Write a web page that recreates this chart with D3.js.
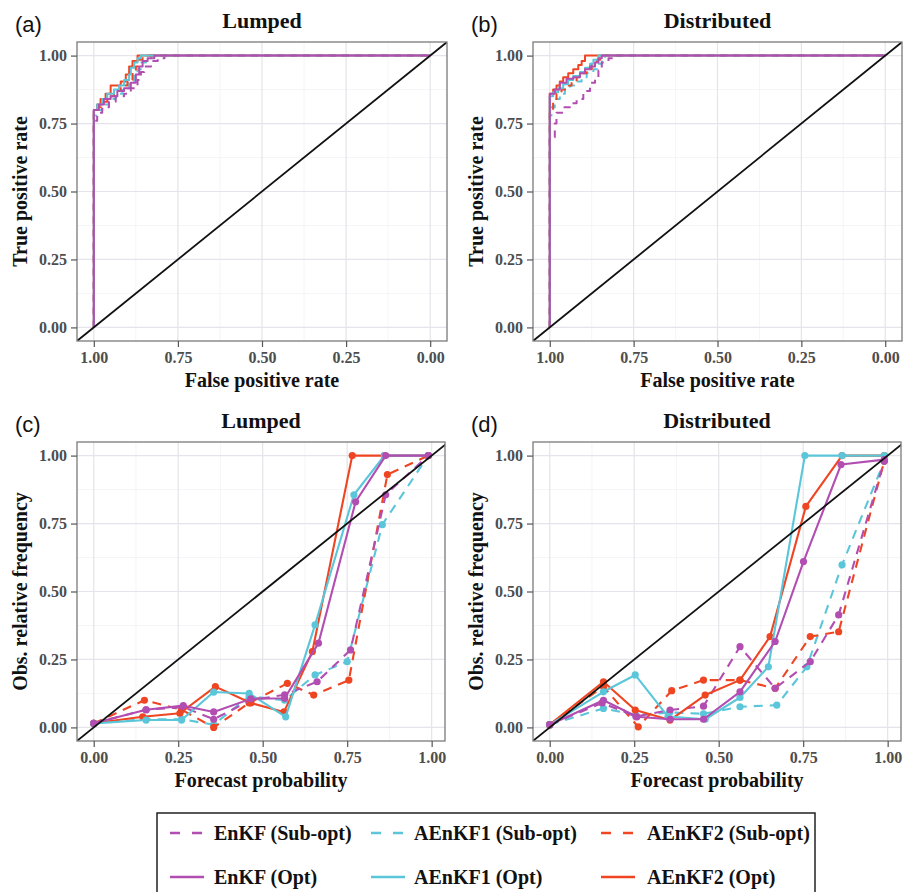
<!DOCTYPE html>
<html>
<head>
<meta charset="utf-8">
<script src="https://cdn.jsdelivr.net/npm/d3@7"></script>
<style>
  html, body { margin: 0; padding: 0; background: #fff; }
  svg { display: block; }
  .serif { font-family: "Liberation Serif", "Times New Roman", serif; font-weight: bold; }
</style>
</head>
<body>
<svg id="fig" width="903" height="892"></svg>
<script>
// ---- shared tick values / labels ----
const tickValues = [0, 0.25, 0.5, 0.75, 1];
const minorValues = [0.125, 0.375, 0.625, 0.875];
const tickFormat = d3.format(".2f");

// ---- series (legend order) ----
const seriesNames = ["EnKF (Sub-opt)", "AEnKF1 (Sub-opt)", "AEnKF2 (Sub-opt)",
                     "EnKF (Opt)", "AEnKF1 (Opt)", "AEnKF2 (Opt)"];
const seriesColors = ["#B24DB1", "#5BC6DA", "#EF4522", "#B24DB1", "#5BC6DA", "#EF4522"];
const seriesDashed = [true, true, true, false, false, false];
// drawing order (index into series arrays)
const drawOrder = [1, 2, 0, 5, 4, 3];

// ---- ROC curves: [specificity, sensitivity] at each rise ----
const rocLumpedEnKFSub = [[1,0],[1,0.76],[0.99,0.79],[0.975,0.81],[0.955,0.83],[0.935,0.85],[0.91,0.86],[0.89,0.88],[0.87,0.91],[0.86,0.94],[0.85,0.96],[0.83,0.98],[0.81,0.99],[0.79,1],[0,1]];
const rocLumpedAEnKF1Sub = [[1,0],[1,0.78],[0.99,0.80],[0.975,0.82],[0.955,0.84],[0.935,0.86],[0.915,0.88],[0.895,0.90],[0.88,0.93],[0.87,0.95],[0.86,0.975],[0.845,0.99],[0.83,1],[0,1]];
const rocLumpedAEnKF2Sub = [[1,0],[1,0.79],[0.99,0.81],[0.975,0.83],[0.96,0.85],[0.94,0.87],[0.92,0.89],[0.90,0.91],[0.885,0.94],[0.875,0.96],[0.865,0.985],[0.855,1],[0,1]];
const rocLumpedEnKFOpt = [[1,0],[1,0.80],[0.985,0.82],[0.97,0.84],[0.95,0.85],[0.93,0.87],[0.91,0.88],[0.89,0.90],[0.875,0.93],[0.865,0.96],[0.855,0.98],[0.84,0.99],[0.82,1],[0,1]];
const rocLumpedAEnKF1Opt = [[1,0],[1,0.80],[0.99,0.82],[0.975,0.84],[0.96,0.86],[0.94,0.875],[0.925,0.89],[0.91,0.91],[0.895,0.93],[0.89,0.955],[0.88,0.975],[0.87,0.99],[0.86,1],[0,1]];
const rocLumpedAEnKF2Opt = [[1,0],[1,0.80],[0.99,0.82],[0.98,0.84],[0.965,0.86],[0.95,0.89],[0.92,0.905],[0.905,0.93],[0.895,0.96],[0.885,0.98],[0.87,1],[0,1]];

const rocDistEnKFSub = [[1,0],[1,0.70],[0.985,0.75],[0.98,0.79],[0.96,0.81],[0.94,0.825],[0.92,0.84],[0.90,0.87],[0.88,0.90],[0.865,0.92],[0.855,0.945],[0.845,0.975],[0.825,0.99],[0.80,1],[0,1]];
const rocDistAEnKF1Sub = [[1,0],[1,0.78],[0.995,0.81],[0.985,0.84],[0.97,0.86],[0.955,0.875],[0.94,0.89],[0.925,0.905],[0.905,0.92],[0.89,0.935],[0.87,0.95],[0.86,0.97],[0.845,0.985],[0.835,1],[0,1]];
const rocDistAEnKF2Sub = [[1,0],[1,0.80],[0.99,0.83],[0.98,0.86],[0.965,0.875],[0.95,0.89],[0.935,0.905],[0.92,0.92],[0.905,0.935],[0.89,0.95],[0.875,0.97],[0.86,0.985],[0.85,1],[0,1]];
const rocDistEnKFOpt = [[1,0],[1,0.86],[0.985,0.875],[0.97,0.90],[0.95,0.915],[0.93,0.92],[0.91,0.935],[0.895,0.95],[0.88,0.96],[0.865,0.975],[0.855,0.99],[0.845,1],[0,1]];
const rocDistAEnKF1Opt = [[1,0],[1,0.85],[0.99,0.865],[0.975,0.88],[0.96,0.895],[0.945,0.91],[0.93,0.925],[0.91,0.94],[0.895,0.955],[0.88,0.97],[0.87,0.985],[0.855,1],[0,1]];
const rocDistAEnKF2Opt = [[1,0],[1,0.86],[0.99,0.875],[0.98,0.89],[0.97,0.905],[0.96,0.92],[0.945,0.935],[0.93,0.95],[0.915,0.965],[0.905,0.98],[0.895,1],[0,1]];

// ---- reliability diagrams: [forecast probability, observed relative frequency] ----
const relLumpedEnKFSub = [[0,0.015],[0.155,0.065],[0.265,0.075],[0.355,0.03],[0.465,0.10],[0.565,0.12],[0.661,0.168],[0.76,0.285],[0.864,0.856],[0.99,1]];
const relLumpedAEnKF1Sub = [[0,0.015],[0.155,0.03],[0.26,0.03],[0.355,0.01],[0.46,0.115],[0.565,0.10],[0.655,0.193],[0.75,0.242],[0.854,0.746],[0.99,1]];
const relLumpedAEnKF2Sub = [[0,0.015],[0.15,0.10],[0.26,0.065],[0.355,0.0],[0.46,0.09],[0.573,0.162],[0.651,0.119],[0.755,0.174],[0.869,0.93],[0.99,1]];
const relLumpedEnKFOpt = [[0,0.015],[0.155,0.065],[0.265,0.08],[0.355,0.057],[0.465,0.105],[0.565,0.107],[0.665,0.31],[0.775,0.83],[0.864,1],[0.99,1]];
const relLumpedAEnKF1Opt = [[0,0.015],[0.155,0.027],[0.26,0.027],[0.355,0.13],[0.46,0.125],[0.568,0.039],[0.655,0.377],[0.77,0.856],[0.86,1],[0.99,1]];
const relLumpedAEnKF2Opt = [[0,0.015],[0.145,0.039],[0.255,0.052],[0.36,0.15],[0.465,0.09],[0.563,0.057],[0.647,0.279],[0.765,1],[0.86,1],[0.99,1]];

const relDistEnKFSub = [[0,0.01],[0.155,0.09],[0.255,0.04],[0.356,0.064],[0.455,0.078],[0.563,0.297],[0.667,0.144],[0.771,0.242],[0.855,0.414],[0.99,0.98]];
const relDistAEnKF1Sub = [[0,0.01],[0.159,0.07],[0.255,0.045],[0.355,0.055],[0.455,0.05],[0.563,0.076],[0.672,0.082],[0.761,0.223],[0.865,0.598],[0.99,0.98]];
const relDistAEnKF2Sub = [[0,0.01],[0.159,0.15],[0.262,0.002],[0.361,0.135],[0.455,0.174],[0.563,0.174],[0.667,0.144],[0.771,0.334],[0.855,0.352],[0.99,0.98]];
const relDistEnKFOpt = [[0,0.01],[0.159,0.10],[0.258,0.039],[0.356,0.03],[0.455,0.03],[0.563,0.131],[0.667,0.316],[0.751,0.61],[0.862,0.967],[0.99,0.985]];
const relDistAEnKF1Opt = [[0,0.01],[0.159,0.131],[0.253,0.193],[0.35,0.04],[0.46,0.03],[0.563,0.11],[0.647,0.223],[0.755,1],[0.865,1],[0.99,1]];
const relDistAEnKF2Opt = [[0,0.01],[0.159,0.168],[0.253,0.064],[0.356,0.027],[0.46,0.119],[0.563,0.174],[0.652,0.334],[0.758,0.813],[0.865,1],[0.99,1]];

// ---- panel definitions ----
const panels = [
  { tag: "(a)", title: "Lumped", kind: "roc", x0: 77, x1: 447, y0: 42, y1: 341,
    xlab: "False positive rate", ylab: "True positive rate",
    series: [rocLumpedEnKFSub, rocLumpedAEnKF1Sub, rocLumpedAEnKF2Sub, rocLumpedEnKFOpt, rocLumpedAEnKF1Opt, rocLumpedAEnKF2Opt] },
  { tag: "(b)", title: "Distributed", kind: "roc", x0: 533, x1: 902, y0: 42, y1: 341,
    xlab: "False positive rate", ylab: "True positive rate",
    series: [rocDistEnKFSub, rocDistAEnKF1Sub, rocDistAEnKF2Sub, rocDistEnKFOpt, rocDistAEnKF1Opt, rocDistAEnKF2Opt] },
  { tag: "(c)", title: "Lumped", kind: "rel", x0: 77, x1: 445, y0: 442, y1: 741,
    xlab: "Forecast probability", ylab: "Obs. relative frequency",
    series: [relLumpedEnKFSub, relLumpedAEnKF1Sub, relLumpedAEnKF2Sub, relLumpedEnKFOpt, relLumpedAEnKF1Opt, relLumpedAEnKF2Opt] },
  { tag: "(d)", title: "Distributed", kind: "rel", x0: 533, x1: 901, y0: 442, y1: 741,
    xlab: "Forecast probability", ylab: "Obs. relative frequency",
    series: [relDistEnKFSub, relDistAEnKF1Sub, relDistAEnKF2Sub, relDistEnKFOpt, relDistAEnKF1Opt, relDistAEnKF2Opt] }
];

const svg = d3.select("#fig");
const DASH = "9,7";

panels.forEach((p, pi) => {
  const x = p.kind === "roc"
    ? d3.scaleLinear().domain([1.05, -0.05]).range([p.x0, p.x1])
    : d3.scaleLinear().domain([-0.0495, 1.0395]).range([p.x0, p.x1]);
  const y = d3.scaleLinear().domain([-0.05, 1.05]).range([p.y1, p.y0]);
  const g = svg.append("g");
  const clipId = "clip" + pi;
  g.append("clipPath").attr("id", clipId).append("rect")
    .attr("x", p.x0).attr("y", p.y0).attr("width", p.x1 - p.x0).attr("height", p.y1 - p.y0);

  // grid
  const grid = g.append("g");
  minorValues.forEach(v => {
    grid.append("line").attr("x1", x(v)).attr("x2", x(v)).attr("y1", p.y0).attr("y2", p.y1)
      .attr("stroke", "#F0F0F3").attr("stroke-width", 0.7);
    grid.append("line").attr("y1", y(v)).attr("y2", y(v)).attr("x1", p.x0).attr("x2", p.x1)
      .attr("stroke", "#F0F0F3").attr("stroke-width", 0.7);
  });
  tickValues.forEach(v => {
    grid.append("line").attr("x1", x(v)).attr("x2", x(v)).attr("y1", p.y0).attr("y2", p.y1)
      .attr("stroke", "#E4E4EA").attr("stroke-width", 1.2);
    grid.append("line").attr("y1", y(v)).attr("y2", y(v)).attr("x1", p.x0).attr("x2", p.x1)
      .attr("stroke", "#E4E4EA").attr("stroke-width", 1.2);
  });

  const plot = g.append("g").attr("clip-path", `url(#${clipId})`);

  drawOrder.forEach(si => {
    const data = p.series[si];
    const line = d3.line().x(d => x(d[0])).y(d => y(d[1]))
      .curve(p.kind === "roc" ? d3.curveStepAfter : d3.curveLinear);
    plot.append("path").datum(data).attr("d", line)
      .attr("fill", "none").attr("stroke", seriesColors[si])
      .attr("stroke-width", p.kind === "roc" ? 2.0 : 2.1)
      .attr("stroke-dasharray", seriesDashed[si] ? (p.kind === "roc" ? "7,6" : DASH) : null)
      .attr("stroke-linejoin", "round");
    if (p.kind === "rel") {
      plot.selectAll(null).data(data).enter().append("circle")
        .attr("cx", d => x(d[0])).attr("cy", d => y(d[1])).attr("r", 3.6)
        .attr("fill", seriesColors[si]);
    }
  });

  // reference diagonal
  const diag = p.kind === "roc" ? [[1.05, -0.05], [-0.05, 1.05]] : [[-0.05, -0.05], [1.05, 1.05]];
  plot.append("line").attr("x1", x(diag[0][0])).attr("y1", y(diag[0][1]))
    .attr("x2", x(diag[1][0])).attr("y2", y(diag[1][1]))
    .attr("stroke", "#111").attr("stroke-width", 1.8);

  // panel border
  g.append("rect").attr("x", p.x0).attr("y", p.y0).attr("width", p.x1 - p.x0).attr("height", p.y1 - p.y0)
    .attr("fill", "none").attr("stroke", "#7A7A7A").attr("stroke-width", 1.3);

  // axes
  const xAxis = d3.axisBottom(x).tickValues(tickValues).tickFormat(tickFormat).tickSize(6).tickSizeOuter(0).tickPadding(5);
  const yAxis = d3.axisLeft(y).tickValues(tickValues).tickFormat(tickFormat).tickSize(6).tickSizeOuter(0).tickPadding(4);
  const gx = g.append("g").attr("transform", `translate(0,${p.y1})`).call(xAxis);
  const gy = g.append("g").attr("transform", `translate(${p.x0},0)`).call(yAxis);
  [gx, gy].forEach(a => {
    a.select(".domain").remove();
    a.selectAll(".tick line").attr("stroke", "#555").attr("stroke-width", 1.2);
    a.selectAll(".tick text").attr("class", "serif").attr("font-size", 16).attr("fill", "#4D4D4D");
  });

  // titles and labels
  const cx = (p.x0 + p.x1) / 2, cy = (p.y0 + p.y1) / 2;
  g.append("text").attr("class", "serif").attr("x", cx).attr("y", p.y0 - 14)
    .attr("text-anchor", "middle").attr("font-size", 22).attr("fill", "#111").text(p.title);
  g.append("text").attr("x", p.x0 - 62).attr("y", p.y0 - 10)
    .attr("font-family", "Liberation Sans, Arial, sans-serif").attr("font-size", 22).attr("fill", "#111").text(p.tag);
  g.append("text").attr("class", "serif").attr("x", cx).attr("y", p.y1 + 46)
    .attr("text-anchor", "middle").attr("font-size", 20).attr("fill", "#111").text(p.xlab);
  g.append("text").attr("class", "serif")
    .attr("transform", `translate(${p.x0 - 50},${cy}) rotate(-90)`)
    .attr("text-anchor", "middle").attr("font-size", 20).attr("fill", "#111").text(p.ylab);
});

// ---- legend ----
const legend = svg.append("g");
legend.append("rect").attr("x", 157).attr("y", 813).attr("width", 658).attr("height", 90)
  .attr("fill", "#fff").attr("stroke", "#222").attr("stroke-width", 1.5);
const colX = [170, 371, 601];
const textX = [214, 414, 647];
const rowY = [833, 877];
seriesNames.forEach((name, i) => {
  const col = i % 3, row = Math.floor(i / 3);
  legend.append("line").attr("x1", colX[col]).attr("x2", colX[col] + 34)
    .attr("y1", rowY[row]).attr("y2", rowY[row])
    .attr("stroke", seriesColors[i]).attr("stroke-width", 2.4)
    .attr("stroke-dasharray", seriesDashed[i] ? "10,12" : null);
  legend.append("text").attr("class", "serif").attr("x", textX[col]).attr("y", rowY[row] + 7)
    .attr("font-size", 20).attr("fill", "#111").text(name);
});
</script>
</body>
</html>
